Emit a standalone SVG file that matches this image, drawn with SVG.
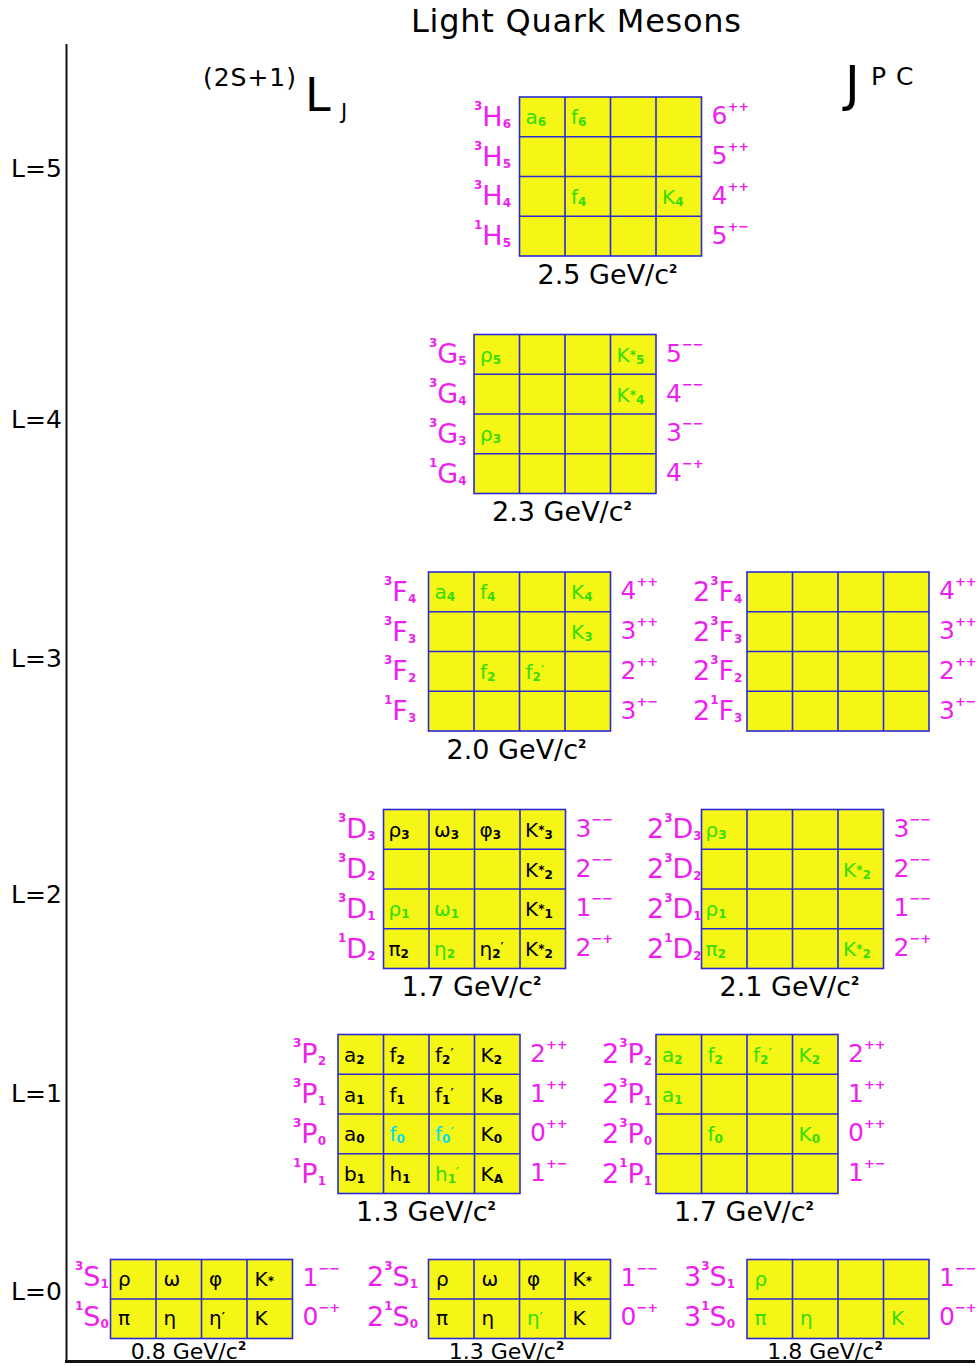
<svg xmlns="http://www.w3.org/2000/svg" width="979" height="1366" viewBox="0 0 979 1366">
<style>
text{font-family:"DejaVu Sans","Liberation Sans",sans-serif;fill:#000}
.g{fill:#f5f516;stroke:#2a2ad8;stroke-width:1.6}
.ln{stroke:#2a2ad8;stroke-width:1.6;fill:none}
.m{fill:#ee1fee;font-size:27px}
.r{fill:#ee1fee;font-size:25px}
.p{font-size:13px;font-weight:bold}
.s{font-size:12px;font-weight:bold}
.c{font-size:20px}
.gr{fill:#33dd00}
.cy{fill:#00dff0}
.ms{font-size:27px;text-anchor:middle}
.ms0{font-size:22px;text-anchor:middle}
.ax{font-size:25px}
.axis{stroke:#111;fill:none}
</style>

<g id="axes">
<line class="axis" x1="66.5" y1="44" x2="66.5" y2="1362" stroke-width="2"/>
<line class="axis" x1="65" y1="1361.5" x2="975" y2="1361.5" stroke-width="3"/>
</g>

<g id="title">
<text x="411" y="32" font-size="32" textLength="330">Light Quark Mesons</text>
<text x="203" y="86" font-size="25" textLength="93">(2S+1)</text>
<text x="305" y="111" font-size="46">L</text>
<text x="341" y="119" font-size="21">J</text>
<text x="845" y="101" font-size="50">J</text>
<text x="871" y="85" font-size="25">P</text>
<text x="896" y="85" font-size="25">C</text>
</g>

<g id="axis-labels">
<text class="ax" x="11" y="177">L=5</text>
<text class="ax" x="11" y="428">L=4</text>
<text class="ax" x="11" y="667">L=3</text>
<text class="ax" x="11" y="903">L=2</text>
<text class="ax" x="11" y="1102">L=1</text>
<text class="ax" x="11" y="1300">L=0</text>
</g>

<!-- L=5 -->
<g id="L5">
<rect class="g" x="519.5" y="97" width="182" height="159"/>
<path class="ln" d="M565 97V256M610.5 97V256M656 97V256M519.5 136.75H701.5M519.5 176.5H701.5M519.5 216.25H701.5"/>
<text class="c gr" x="525.5" y="124.4">a<tspan class="s" dy="2">6</tspan></text>
<text class="c gr" x="571" y="124.4">f<tspan class="s" dy="2">6</tspan></text>
<text class="c gr" x="571" y="203.9">f<tspan class="s" dy="2">4</tspan></text>
<text class="c gr" x="662" y="203.9">K<tspan class="s" dy="2">4</tspan></text>
<text class="m" x="474" y="125.9"><tspan class="s" dy="-16">3</tspan><tspan dy="16">H</tspan><tspan class="s" dy="2">6</tspan></text>
<text class="m" x="474" y="165.6"><tspan class="s" dy="-16">3</tspan><tspan dy="16">H</tspan><tspan class="s" dy="2">5</tspan></text>
<text class="m" x="474" y="205.4"><tspan class="s" dy="-16">3</tspan><tspan dy="16">H</tspan><tspan class="s" dy="2">4</tspan></text>
<text class="m" x="474" y="245.1"><tspan class="s" dy="-16">1</tspan><tspan dy="16">H</tspan><tspan class="s" dy="2">5</tspan></text>
<text class="r" x="711.5" y="124.4">6<tspan class="p" dy="-13">++</tspan></text>
<text class="r" x="711.5" y="164.1">5<tspan class="p" dy="-13">++</tspan></text>
<text class="r" x="711.5" y="203.9">4<tspan class="p" dy="-13">++</tspan></text>
<text class="r" x="711.5" y="243.6">5<tspan class="p" dy="-13">+−</tspan></text>
<text class="ms" x="607.5" y="283.5">2.5 GeV/c<tspan class="s" font-size="13" dy="-11">2</tspan></text>
</g>

<!-- L=4 -->
<g id="L4">
<rect class="g" x="474" y="334.5" width="182" height="159"/>
<path class="ln" d="M519.5 334.5V493.5M565 334.5V493.5M610.5 334.5V493.5M474 374.25H656M474 414H656M474 453.75H656"/>
<text class="c gr" x="480" y="361.9">ρ<tspan class="s" dy="2">5</tspan></text>
<text class="c gr" x="616.5" y="361.9">K<tspan class="s" dy="-3">*</tspan><tspan class="s" dy="5">5</tspan></text>
<text class="c gr" x="616.5" y="401.6">K<tspan class="s" dy="-3">*</tspan><tspan class="s" dy="5">4</tspan></text>
<text class="c gr" x="480" y="441.4">ρ<tspan class="s" dy="2">3</tspan></text>
<text class="m" x="429" y="363.4"><tspan class="s" dy="-16">3</tspan><tspan dy="16">G</tspan><tspan class="s" dy="2">5</tspan></text>
<text class="m" x="429" y="403.1"><tspan class="s" dy="-16">3</tspan><tspan dy="16">G</tspan><tspan class="s" dy="2">4</tspan></text>
<text class="m" x="429" y="442.9"><tspan class="s" dy="-16">3</tspan><tspan dy="16">G</tspan><tspan class="s" dy="2">3</tspan></text>
<text class="m" x="429" y="482.6"><tspan class="s" dy="-16">1</tspan><tspan dy="16">G</tspan><tspan class="s" dy="2">4</tspan></text>
<text class="r" x="666" y="361.9">5<tspan class="p" dy="-13">−−</tspan></text>
<text class="r" x="666" y="401.6">4<tspan class="p" dy="-13">−−</tspan></text>
<text class="r" x="666" y="441.4">3<tspan class="p" dy="-13">−−</tspan></text>
<text class="r" x="666" y="481.1">4<tspan class="p" dy="-13">−+</tspan></text>
<text class="ms" x="562" y="521">2.3 GeV/c<tspan class="s" font-size="13" dy="-11">2</tspan></text>
</g>

<!-- L=3 left -->
<g id="L3a">
<rect class="g" x="428.5" y="572" width="182" height="159"/>
<path class="ln" d="M474 572V731M519.5 572V731M565 572V731M428.5 611.75H610.5M428.5 651.5H610.5M428.5 691.25H610.5"/>
<text class="c gr" x="434.5" y="599.4">a<tspan class="s" dy="2">4</tspan></text>
<text class="c gr" x="480" y="599.4">f<tspan class="s" dy="2">4</tspan></text>
<text class="c gr" x="571" y="599.4">K<tspan class="s" dy="2">4</tspan></text>
<text class="c gr" x="571" y="639.1">K<tspan class="s" dy="2">3</tspan></text>
<text class="c gr" x="480" y="678.9">f<tspan class="s" dy="2">2</tspan></text>
<text class="c gr" x="525.5" y="678.9">f<tspan class="s" dy="2">2</tspan><tspan class="s" dy="-7">′</tspan></text>
<text class="m" x="384" y="600.9"><tspan class="s" dy="-16">3</tspan><tspan dy="16">F</tspan><tspan class="s" dy="2">4</tspan></text>
<text class="m" x="384" y="640.6"><tspan class="s" dy="-16">3</tspan><tspan dy="16">F</tspan><tspan class="s" dy="2">3</tspan></text>
<text class="m" x="384" y="680.4"><tspan class="s" dy="-16">3</tspan><tspan dy="16">F</tspan><tspan class="s" dy="2">2</tspan></text>
<text class="m" x="384" y="720.1"><tspan class="s" dy="-16">1</tspan><tspan dy="16">F</tspan><tspan class="s" dy="2">3</tspan></text>
<text class="r" x="620.5" y="599.4">4<tspan class="p" dy="-13">++</tspan></text>
<text class="r" x="620.5" y="639.1">3<tspan class="p" dy="-13">++</tspan></text>
<text class="r" x="620.5" y="678.9">2<tspan class="p" dy="-13">++</tspan></text>
<text class="r" x="620.5" y="718.6">3<tspan class="p" dy="-13">+−</tspan></text>
<text class="ms" x="516.5" y="758.5">2.0 GeV/c<tspan class="s" font-size="13" dy="-11">2</tspan></text>
</g>

<!-- L=3 right -->
<g id="L3b">
<rect class="g" x="747" y="572" width="182" height="159"/>
<path class="ln" d="M792.5 572V731M838 572V731M883.5 572V731M747 611.75H929M747 651.5H929M747 691.25H929"/>
<text class="m" x="693" y="600.9">2<tspan class="s" dy="-16">3</tspan><tspan dy="16">F</tspan><tspan class="s" dy="2">4</tspan></text>
<text class="m" x="693" y="640.6">2<tspan class="s" dy="-16">3</tspan><tspan dy="16">F</tspan><tspan class="s" dy="2">3</tspan></text>
<text class="m" x="693" y="680.4">2<tspan class="s" dy="-16">3</tspan><tspan dy="16">F</tspan><tspan class="s" dy="2">2</tspan></text>
<text class="m" x="693" y="720.1">2<tspan class="s" dy="-16">1</tspan><tspan dy="16">F</tspan><tspan class="s" dy="2">3</tspan></text>
<text class="r" x="939" y="599.4">4<tspan class="p" dy="-13">++</tspan></text>
<text class="r" x="939" y="639.1">3<tspan class="p" dy="-13">++</tspan></text>
<text class="r" x="939" y="678.9">2<tspan class="p" dy="-13">++</tspan></text>
<text class="r" x="939" y="718.6">3<tspan class="p" dy="-13">+−</tspan></text>
</g>

<!-- L=2 left -->
<g id="L2a">
<rect class="g" x="383.5" y="809.5" width="182" height="159"/>
<path class="ln" d="M429 809.5V968.5M474.5 809.5V968.5M520 809.5V968.5M383.5 849.25H565.5M383.5 889H565.5M383.5 928.75H565.5"/>
<text class="c" x="388.5" y="836.9">ρ<tspan class="s" dy="2">3</tspan></text>
<text class="c" x="434" y="836.9">ω<tspan class="s" dy="2">3</tspan></text>
<text class="c" x="479.5" y="836.9">φ<tspan class="s" dy="2">3</tspan></text>
<text class="c" x="525" y="836.9">K<tspan class="s" dy="-3">*</tspan><tspan class="s" dy="5">3</tspan></text>
<text class="c" x="525" y="876.6">K<tspan class="s" dy="-3">*</tspan><tspan class="s" dy="5">2</tspan></text>
<text class="c gr" x="388.5" y="916.4">ρ<tspan class="s" dy="2">1</tspan></text>
<text class="c gr" x="434" y="916.4">ω<tspan class="s" dy="2">1</tspan></text>
<text class="c" x="525" y="916.4">K<tspan class="s" dy="-3">*</tspan><tspan class="s" dy="5">1</tspan></text>
<text class="c" x="388.5" y="956.1">π<tspan class="s" dy="2">2</tspan></text>
<text class="c gr" x="434" y="956.1">η<tspan class="s" dy="2">2</tspan></text>
<text class="c" x="479.5" y="956.1">η<tspan class="s" dy="2">2</tspan><tspan class="s" dy="-7">′</tspan></text>
<text class="c" x="525" y="956.1">K<tspan class="s" dy="-3">*</tspan><tspan class="s" dy="5">2</tspan></text>
<text class="m" x="338" y="838.4"><tspan class="s" dy="-16">3</tspan><tspan dy="16">D</tspan><tspan class="s" dy="2">3</tspan></text>
<text class="m" x="338" y="878.1"><tspan class="s" dy="-16">3</tspan><tspan dy="16">D</tspan><tspan class="s" dy="2">2</tspan></text>
<text class="m" x="338" y="917.9"><tspan class="s" dy="-16">3</tspan><tspan dy="16">D</tspan><tspan class="s" dy="2">1</tspan></text>
<text class="m" x="338" y="957.6"><tspan class="s" dy="-16">1</tspan><tspan dy="16">D</tspan><tspan class="s" dy="2">2</tspan></text>
<text class="r" x="575.5" y="836.9">3<tspan class="p" dy="-13">−−</tspan></text>
<text class="r" x="575.5" y="876.6">2<tspan class="p" dy="-13">−−</tspan></text>
<text class="r" x="575.5" y="916.4">1<tspan class="p" dy="-13">−−</tspan></text>
<text class="r" x="575.5" y="956.1">2<tspan class="p" dy="-13">−+</tspan></text>
<text class="ms" x="471.5" y="996">1.7 GeV/c<tspan class="s" font-size="13" dy="-11">2</tspan></text>
</g>

<!-- L=2 right -->
<g id="L2b">
<rect class="g" x="701.5" y="809.5" width="182" height="159"/>
<path class="ln" d="M747 809.5V968.5M792.5 809.5V968.5M838 809.5V968.5M701.5 849.25H883.5M701.5 889H883.5M701.5 928.75H883.5"/>
<text class="c gr" x="705.5" y="836.9">ρ<tspan class="s" dy="2">3</tspan></text>
<text class="c gr" x="843" y="876.6">K<tspan class="s" dy="-3">*</tspan><tspan class="s" dy="5">2</tspan></text>
<text class="c gr" x="705.5" y="916.4">ρ<tspan class="s" dy="2">1</tspan></text>
<text class="c gr" x="705.5" y="956.1">π<tspan class="s" dy="2">2</tspan></text>
<text class="c gr" x="843" y="956.1">K<tspan class="s" dy="-3">*</tspan><tspan class="s" dy="5">2</tspan></text>
<text class="m" x="647" y="838.4">2<tspan class="s" dy="-16">3</tspan><tspan dy="16">D</tspan><tspan class="s" dy="2">3</tspan></text>
<text class="m" x="647" y="878.1">2<tspan class="s" dy="-16">3</tspan><tspan dy="16">D</tspan><tspan class="s" dy="2">2</tspan></text>
<text class="m" x="647" y="917.9">2<tspan class="s" dy="-16">3</tspan><tspan dy="16">D</tspan><tspan class="s" dy="2">1</tspan></text>
<text class="m" x="647" y="957.6">2<tspan class="s" dy="-16">1</tspan><tspan dy="16">D</tspan><tspan class="s" dy="2">2</tspan></text>
<text class="r" x="893.5" y="836.9">3<tspan class="p" dy="-13">−−</tspan></text>
<text class="r" x="893.5" y="876.6">2<tspan class="p" dy="-13">−−</tspan></text>
<text class="r" x="893.5" y="916.4">1<tspan class="p" dy="-13">−−</tspan></text>
<text class="r" x="893.5" y="956.1">2<tspan class="p" dy="-13">−+</tspan></text>
<text class="ms" x="789.5" y="996">2.1 GeV/c<tspan class="s" font-size="13" dy="-11">2</tspan></text>
</g>

<!-- L=1 left -->
<g id="L1a">
<rect class="g" x="338" y="1034.5" width="182" height="159"/>
<path class="ln" d="M383.5 1034.5V1193.5M429 1034.5V1193.5M474.5 1034.5V1193.5M338 1074.25H520M338 1114H520M338 1153.75H520"/>
<text class="c" x="344" y="1061.9">a<tspan class="s" dy="2">2</tspan></text>
<text class="c" x="389.5" y="1061.9">f<tspan class="s" dy="2">2</tspan></text>
<text class="c" x="435" y="1061.9">f<tspan class="s" dy="2">2</tspan><tspan class="s" dy="-7">′</tspan></text>
<text class="c" x="480.5" y="1061.9">K<tspan class="s" dy="2">2</tspan></text>
<text class="c" x="344" y="1101.6">a<tspan class="s" dy="2">1</tspan></text>
<text class="c" x="389.5" y="1101.6">f<tspan class="s" dy="2">1</tspan></text>
<text class="c" x="435" y="1101.6">f<tspan class="s" dy="2">1</tspan><tspan class="s" dy="-7">′</tspan></text>
<text class="c" x="480.5" y="1101.6">K<tspan class="s" dy="2">B</tspan></text>
<text class="c" x="344" y="1141.4">a<tspan class="s" dy="2">0</tspan></text>
<text class="c cy" x="389.5" y="1141.4">f<tspan class="s" dy="2">0</tspan></text>
<text class="c cy" x="435" y="1141.4">f<tspan class="s" dy="2">0</tspan><tspan class="s" dy="-7">′</tspan></text>
<text class="c" x="480.5" y="1141.4">K<tspan class="s" dy="2">0</tspan></text>
<text class="c" x="344" y="1181.1">b<tspan class="s" dy="2">1</tspan></text>
<text class="c" x="389.5" y="1181.1">h<tspan class="s" dy="2">1</tspan></text>
<text class="c gr" x="435" y="1181.1">h<tspan class="s" dy="2">1</tspan><tspan class="s" dy="-7">′</tspan></text>
<text class="c" x="480.5" y="1181.1">K<tspan class="s" dy="2">A</tspan></text>
<text class="m" x="293" y="1063.4"><tspan class="s" dy="-16">3</tspan><tspan dy="16">P</tspan><tspan class="s" dy="2">2</tspan></text>
<text class="m" x="293" y="1103.1"><tspan class="s" dy="-16">3</tspan><tspan dy="16">P</tspan><tspan class="s" dy="2">1</tspan></text>
<text class="m" x="293" y="1142.9"><tspan class="s" dy="-16">3</tspan><tspan dy="16">P</tspan><tspan class="s" dy="2">0</tspan></text>
<text class="m" x="293" y="1182.6"><tspan class="s" dy="-16">1</tspan><tspan dy="16">P</tspan><tspan class="s" dy="2">1</tspan></text>
<text class="r" x="530" y="1061.9">2<tspan class="p" dy="-13">++</tspan></text>
<text class="r" x="530" y="1101.6">1<tspan class="p" dy="-13">++</tspan></text>
<text class="r" x="530" y="1141.4">0<tspan class="p" dy="-13">++</tspan></text>
<text class="r" x="530" y="1181.1">1<tspan class="p" dy="-13">+−</tspan></text>
<text class="ms" x="426" y="1221">1.3 GeV/c<tspan class="s" font-size="13" dy="-11">2</tspan></text>
</g>

<!-- L=1 right -->
<g id="L1b">
<rect class="g" x="656" y="1034.5" width="182" height="159"/>
<path class="ln" d="M701.5 1034.5V1193.5M747 1034.5V1193.5M792.5 1034.5V1193.5M656 1074.25H838M656 1114H838M656 1153.75H838"/>
<text class="c gr" x="662" y="1061.9">a<tspan class="s" dy="2">2</tspan></text>
<text class="c gr" x="707.5" y="1061.9">f<tspan class="s" dy="2">2</tspan></text>
<text class="c gr" x="753" y="1061.9">f<tspan class="s" dy="2">2</tspan><tspan class="s" dy="-7">′</tspan></text>
<text class="c gr" x="798.5" y="1061.9">K<tspan class="s" dy="2">2</tspan></text>
<text class="c gr" x="662" y="1101.6">a<tspan class="s" dy="2">1</tspan></text>
<text class="c gr" x="707.5" y="1141.4">f<tspan class="s" dy="2">0</tspan></text>
<text class="c gr" x="798.5" y="1141.4">K<tspan class="s" dy="2">0</tspan></text>
<text class="m" x="602" y="1063.4">2<tspan class="s" dy="-16">3</tspan><tspan dy="16">P</tspan><tspan class="s" dy="2">2</tspan></text>
<text class="m" x="602" y="1103.1">2<tspan class="s" dy="-16">3</tspan><tspan dy="16">P</tspan><tspan class="s" dy="2">1</tspan></text>
<text class="m" x="602" y="1142.9">2<tspan class="s" dy="-16">3</tspan><tspan dy="16">P</tspan><tspan class="s" dy="2">0</tspan></text>
<text class="m" x="602" y="1182.6">2<tspan class="s" dy="-16">1</tspan><tspan dy="16">P</tspan><tspan class="s" dy="2">1</tspan></text>
<text class="r" x="848" y="1061.9">2<tspan class="p" dy="-13">++</tspan></text>
<text class="r" x="848" y="1101.6">1<tspan class="p" dy="-13">++</tspan></text>
<text class="r" x="848" y="1141.4">0<tspan class="p" dy="-13">++</tspan></text>
<text class="r" x="848" y="1181.1">1<tspan class="p" dy="-13">+−</tspan></text>
<text class="ms" x="744" y="1221">1.7 GeV/c<tspan class="s" font-size="13" dy="-11">2</tspan></text>
</g>

<!-- L=0 -->
<g id="L0a">
<rect class="g" x="110.5" y="1259.5" width="182" height="79"/>
<path class="ln" d="M156 1259.5V1338.5M201.5 1259.5V1338.5M247 1259.5V1338.5M110.5 1299H292.5"/>
<text class="c" x="118" y="1285.8">ρ</text>
<text class="c" x="163.5" y="1285.8">ω</text>
<text class="c" x="209" y="1285.8">φ</text>
<text class="c" x="254.5" y="1285.8">K<tspan class="s" dy="-1">*</tspan></text>
<text class="c" x="118" y="1325.3">π</text>
<text class="c" x="163.5" y="1325.3">η</text>
<text class="c" x="209" y="1325.3">η<tspan class="s" dy="-4">′</tspan></text>
<text class="c" x="254.5" y="1325.3">K</text>
<text class="m" x="75" y="1286.3"><tspan class="s" dy="-16">3</tspan><tspan dy="16">S</tspan><tspan class="s" dy="2">1</tspan></text>
<text class="m" x="75" y="1325.8"><tspan class="s" dy="-16">1</tspan><tspan dy="16">S</tspan><tspan class="s" dy="2">0</tspan></text>
<text class="r" x="302.5" y="1285.5">1<tspan class="p" dy="-13">−−</tspan></text>
<text class="r" x="302.5" y="1325">0<tspan class="p" dy="-13">−+</tspan></text>
<text class="ms0" x="188.5" y="1358.5">0.8 GeV/c<tspan class="s" font-size="12" dy="-9">2</tspan></text>
</g>

<g id="L0b">
<rect class="g" x="428.5" y="1259.5" width="182" height="79"/>
<path class="ln" d="M474 1259.5V1338.5M519.5 1259.5V1338.5M565 1259.5V1338.5M428.5 1299H610.5"/>
<text class="c" x="436" y="1285.8">ρ</text>
<text class="c" x="481.5" y="1285.8">ω</text>
<text class="c" x="527" y="1285.8">φ</text>
<text class="c" x="572.5" y="1285.8">K<tspan class="s" dy="-1">*</tspan></text>
<text class="c" x="436" y="1325.3">π</text>
<text class="c" x="481.5" y="1325.3">η</text>
<text class="c gr" x="527" y="1325.3">η<tspan class="s" dy="-4">′</tspan></text>
<text class="c" x="572.5" y="1325.3">K</text>
<text class="m" x="367" y="1286.3">2<tspan class="s" dy="-16">3</tspan><tspan dy="16">S</tspan><tspan class="s" dy="2">1</tspan></text>
<text class="m" x="367" y="1325.8">2<tspan class="s" dy="-16">1</tspan><tspan dy="16">S</tspan><tspan class="s" dy="2">0</tspan></text>
<text class="r" x="620.5" y="1285.5">1<tspan class="p" dy="-13">−−</tspan></text>
<text class="r" x="620.5" y="1325">0<tspan class="p" dy="-13">−+</tspan></text>
<text class="ms0" x="506.5" y="1358.5">1.3 GeV/c<tspan class="s" font-size="12" dy="-9">2</tspan></text>
</g>

<g id="L0c">
<rect class="g" x="747" y="1259.5" width="182" height="79"/>
<path class="ln" d="M792.5 1259.5V1338.5M838 1259.5V1338.5M883.5 1259.5V1338.5M747 1299H929"/>
<text class="c gr" x="754.5" y="1285.8">ρ</text>
<text class="c gr" x="754.5" y="1325.3">π</text>
<text class="c gr" x="800" y="1325.3">η</text>
<text class="c gr" x="891" y="1325.3">K</text>
<text class="m" x="684" y="1286.3">3<tspan class="s" dy="-16">3</tspan><tspan dy="16">S</tspan><tspan class="s" dy="2">1</tspan></text>
<text class="m" x="684" y="1325.8">3<tspan class="s" dy="-16">1</tspan><tspan dy="16">S</tspan><tspan class="s" dy="2">0</tspan></text>
<text class="r" x="939" y="1285.5">1<tspan class="p" dy="-13">−−</tspan></text>
<text class="r" x="939" y="1325">0<tspan class="p" dy="-13">−+</tspan></text>
<text class="ms0" x="825" y="1358.5">1.8 GeV/c<tspan class="s" font-size="12" dy="-9">2</tspan></text>
</g>
</svg>
